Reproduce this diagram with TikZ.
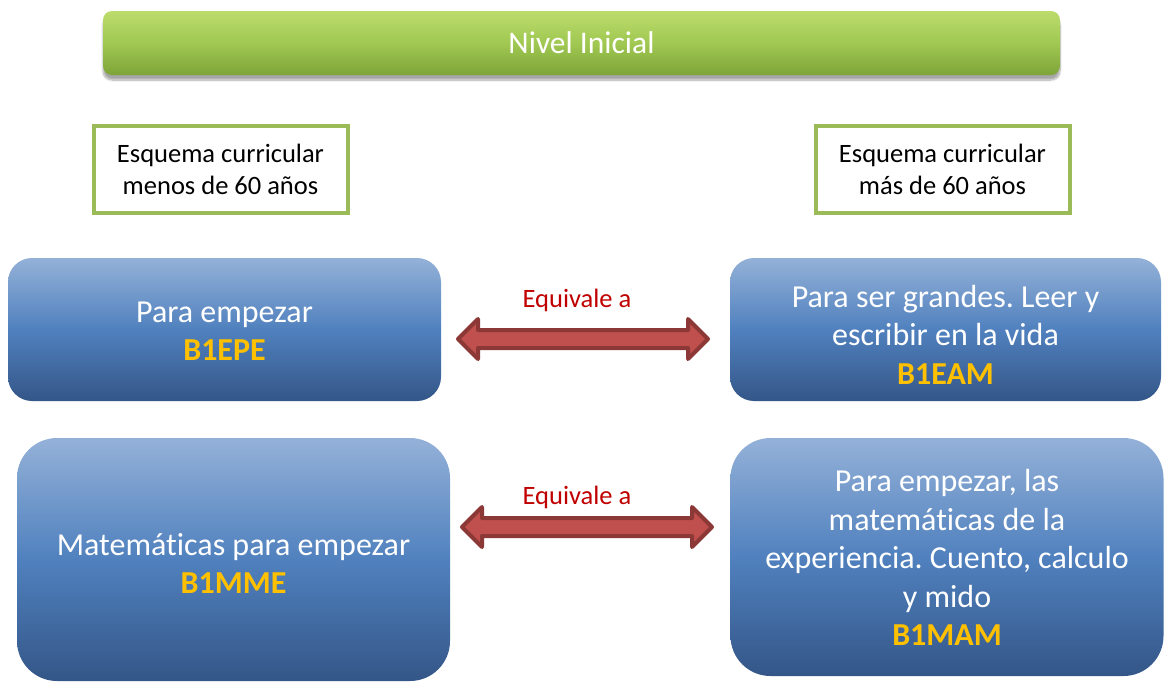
\documentclass[tikz,border=0pt]{standalone}
\usepackage{fontspec}
\setmainfont{Carlito}[Ligatures=NoCommon]
\frenchspacing
\usetikzlibrary{calc,shadows.blur}
\definecolor{bluetop}{RGB}{148,177,216}
\definecolor{bluemid}{RGB}{80,129,190}
\definecolor{bluebot}{RGB}{52,86,136}
\definecolor{greentop}{RGB}{188,220,108}
\definecolor{greenmid}{RGB}{160,200,82}
\definecolor{greenbot}{RGB}{126,164,56}
\definecolor{greenline}{RGB}{155,187,89}
\definecolor{codeorange}{RGB}{255,192,0}
\definecolor{arrowfill}{RGB}{192,80,77}
\definecolor{arrowline}{RGB}{140,56,54}
\definecolor{eqred}{RGB}{192,0,0}
\tikzset{
  bluebox/.style={rounded corners=#1, top color=bluetop, bottom color=bluebot, middle color=bluemid,
    draw=none, text=white, align=center, inner sep=0pt,
    font=\fontsize{32}{38.5}\selectfont},
  bluebox/.default=24pt,
  schemebox/.style={draw=greenline, line width=4pt, fill=white, align=center,
    minimum width=254pt, minimum height=87pt, inner sep=0pt,
    font=\fontsize{26.5}{32}\selectfont},
  eqlabel/.style={text=eqred, font=\fontsize{26.5}{32}\selectfont, inner sep=0pt},
  blockarrow/.style={fill=arrowfill, draw=arrowline, line width=4pt, line join=round},
  btext/.style={text=white, align=center, inner sep=0pt, font=\fontsize{32}{38.5}\selectfont}
}
\newcommand{\dblarrow}[2]{%
  \draw[blockarrow] (#1) -- ($(#1)+(20,-20)$) -- ($(#1)+(20,-9)$) -- ($(#2)+(-20,-9)$) -- ($(#2)+(-20,-20)$)
    -- (#2) -- ($(#2)+(-20,20)$) -- ($(#2)+(-20,9)$) -- ($(#1)+(20,9)$) -- ($(#1)+(20,20)$) -- cycle;}
\newcommand{\code}[1]{{\color{codeorange}\bfseries #1}}
\begin{document}
\begin{tikzpicture}[x=1pt,y=-1pt]
\useasboundingbox (0,0) rectangle (1165,683);

% top bar
\node[rounded corners=9pt, top color=greentop, bottom color=greenbot, middle color=greenmid,
  minimum width=957pt, minimum height=64pt, inner sep=0pt, text=white,
  font=\fontsize{31.5}{36}\selectfont,
  blur shadow={shadow xshift=0pt, shadow yshift=-5pt, shadow blur steps=10, shadow opacity=35}]
  (nivel) at (581.5,43) {Nivel Inicial};

% scheme boxes
\node[schemebox] (sleft) at (220.5,169.5) {Esquema curricular\\menos de 60 años};
\node[schemebox] (sright) at (942.5,169.5) {Esquema curricular\\más de 60 años};

% blue boxes
\node[bluebox, minimum width=433pt, minimum height=143pt] (b1) at (224.5,329.5) {};
\node[btext] (t1) at (224.5,331) {Para empezar\\\code{B1EPE}};
\node[bluebox, minimum width=431pt, minimum height=143pt] (b2) at (945.5,329.5) {};
\node[btext] (t2) at (945.5,334.5) {Para ser grandes. Leer y\\escribir en la vida\\\code{B1EAM}};
\node[bluebox=40pt, minimum width=433pt, minimum height=243pt] (b3) at (233.5,559.5) {};
\node[btext] (t3) at (233.5,563.5) {Matemáticas para empezar\\\code{B1MME}};
\node[bluebox=40pt, minimum width=433pt, minimum height=238pt] (b4) at (947,557) {};
\node[btext] (t4) at (947,557.5) {Para empezar, las\\matemáticas de la\\experiencia. Cuento, calculo\\y mido\\\code{B1MAM}};

% arrows
\coordinate (a1l) at (458,339);
\coordinate (a1r) at (708,339);
\coordinate (a2l) at (462,527);
\coordinate (a2r) at (712,527);
\dblarrow{a1l}{a1r}
\dblarrow{a2l}{a2r}
\node[eqlabel] (eq1) at (577,300) {Equivale a};
\node[eqlabel] (eq2) at (577,497) {Equivale a};
\end{tikzpicture}
\end{document}
